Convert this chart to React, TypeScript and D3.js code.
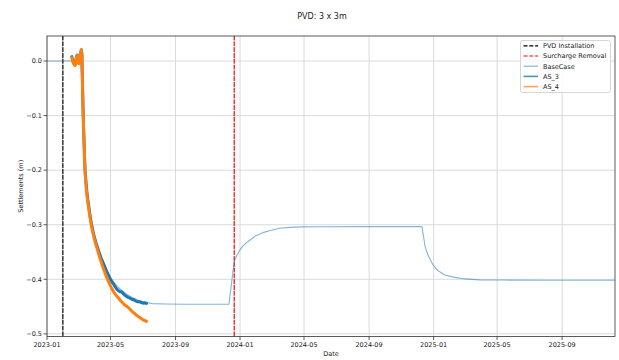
import React from "react";
import * as d3 from "d3";

const TITLE = "PVD: 3 x 3m";
const X_LABEL = "Date";
const Y_LABEL = "Settlements (m)";

const X_TICKS = ["2023-01-01", "2023-05-01", "2023-09-01", "2024-01-01", "2024-05-01", "2024-09-01", "2025-01-01", "2025-05-01", "2025-09-01"];
const Y_TICKS = [0.0, -0.1, -0.2, -0.3, -0.4, -0.5];
const X_DOMAIN = ["2023-01-01", "2025-12-10"];
const Y_DOMAIN = [-0.5048, 0.0458];

const PVD_DATE = "2023-01-31";
const SURCHARGE_DATE = "2023-12-21";

const BASE_DATES = [
  "2023-01-01", "2023-03-06", "2023-03-08", "2023-03-10", "2023-03-12", "2023-03-14", "2023-03-17", "2023-03-20",
  "2023-03-23", "2023-03-26", "2023-03-30", "2023-04-04", "2023-04-09", "2023-04-14", "2023-04-20", "2023-04-26",
  "2023-05-02", "2023-05-09", "2023-05-16", "2023-05-23", "2023-05-31", "2023-06-10", "2023-06-22", "2023-07-05",
  "2023-07-20", "2023-08-14", "2023-09-18", "2023-12-11", "2023-12-21", "2023-12-26", "2024-01-01", "2024-01-08",
  "2024-01-20", "2024-01-31", "2024-02-13", "2024-02-29", "2024-03-16", "2024-04-05", "2024-04-25", "2024-06-04",
  "2024-08-23", "2024-12-10", "2024-12-13", "2024-12-16", "2024-12-21", "2024-12-31", "2025-01-09", "2025-01-22",
  "2025-02-10", "2025-03-01", "2025-03-29", "2025-05-10", "2025-08-08", "2025-12-10",
];
const BASE_VALUES = [
  0, 0, -0.04, -0.09, -0.145, -0.195, -0.235, -0.26,
  -0.279, -0.297, -0.317, -0.335, -0.349, -0.362, -0.376, -0.388,
  -0.398, -0.407, -0.415, -0.421, -0.427, -0.433, -0.438, -0.442,
  -0.4445, -0.4452, -0.4456, -0.4456, -0.3676, -0.356, -0.346, -0.337,
  -0.328, -0.32, -0.3145, -0.31, -0.3064, -0.3048, -0.304, -0.3036,
  -0.3035, -0.3035, -0.322, -0.34, -0.355, -0.3736, -0.384, -0.392,
  -0.3965, -0.3993, -0.401, -0.4014, -0.4016, -0.4016,
];

const AS_DATES = [
  "2023-02-17", "2023-02-19", "2023-02-21", "2023-02-23", "2023-02-25", "2023-02-27", "2023-02-28", "2023-03-02",
  "2023-03-04", "2023-03-06", "2023-03-07", "2023-03-08", "2023-03-09", "2023-03-10", "2023-03-11", "2023-03-12",
  "2023-03-13", "2023-03-14", "2023-03-16", "2023-03-18", "2023-03-20", "2023-03-22", "2023-03-24", "2023-03-26",
  "2023-03-29", "2023-04-01", "2023-04-04", "2023-04-07", "2023-04-10", "2023-04-13", "2023-04-16", "2023-04-19",
  "2023-04-22", "2023-04-25", "2023-04-28", "2023-05-01", "2023-05-04", "2023-05-07", "2023-05-10", "2023-05-13",
  "2023-05-16", "2023-05-19", "2023-05-22", "2023-05-25", "2023-05-28", "2023-05-31", "2023-06-03", "2023-06-06",
  "2023-06-09", "2023-06-12", "2023-06-15", "2023-06-18", "2023-06-21", "2023-06-24", "2023-06-27", "2023-06-30",
  "2023-07-03", "2023-07-06", "2023-07-08",
];
const AS3_VALUES = [
  0.008, 0.0, -0.004, -0.007, 0.004, 0.011, 0.002, -0.004,
  0.008, 0.016, 0.02, 0.012, -0.035, -0.08, -0.115, -0.145,
  -0.175, -0.2, -0.225, -0.245, -0.26, -0.273, -0.287, -0.298,
  -0.312, -0.324, -0.334, -0.343, -0.352, -0.36, -0.367, -0.374,
  -0.381, -0.388, -0.394, -0.4, -0.405, -0.409, -0.414, -0.418,
  -0.421, -0.423, -0.423, -0.426, -0.429, -0.431, -0.433, -0.434,
  -0.436, -0.437, -0.438, -0.44, -0.441, -0.441, -0.442, -0.443,
  -0.444, -0.443, -0.444,
];
const AS4_VALUES = [
  0.006, -0.002, -0.006, -0.008, 0.002, 0.01, 0.0, -0.005,
  0.007, 0.015, 0.021, 0.01, -0.04, -0.085, -0.12, -0.15,
  -0.18, -0.205, -0.23, -0.25, -0.265, -0.278, -0.291, -0.302,
  -0.316, -0.328, -0.338, -0.348, -0.358, -0.367, -0.376, -0.384,
  -0.392, -0.399, -0.406, -0.412, -0.418, -0.423, -0.427, -0.431,
  -0.434, -0.438, -0.441, -0.444, -0.447, -0.449, -0.451, -0.454,
  -0.457, -0.46, -0.462, -0.465, -0.467, -0.469, -0.471, -0.473,
  -0.475, -0.476, -0.477,
];

const LEGEND = [
  { label: "PVD Installation", color: "#000000", dash: "4,1.8", width: 1.2, opacity: 1 },
  { label: "Surcharge Removal", color: "#ff0000", dash: "4,1.8", width: 1.2, opacity: 1 },
  { label: "BaseCase", color: "#1f77b4", dash: null, width: 1.2, opacity: 0.55 },
  { label: "AS_3", color: "#1f77b4", dash: null, width: 1.6, opacity: 0.8 },
  { label: "AS_4", color: "#ff7f0e", dash: null, width: 1.6, opacity: 0.7 },
];

const parse = d3.utcParse("%Y-%m-%d");
const FONT = "'DejaVu Sans', sans-serif";

export default function App() {
  const W = 619, H = 360;
  const m = { left: 47, right: 615, top: 36, bottom: 336.5 };
  const x = d3.scaleUtc().domain(X_DOMAIN.map((d) => parse(d)!)).range([m.left, m.right]);
  const y = d3.scaleLinear().domain(Y_DOMAIN).range([m.bottom, m.top]);
  const fmt = d3.utcFormat("%Y-%m");
  const yfmt = (v: number) => (v < 0 ? "\u2212" : "") + Math.abs(v).toFixed(1);

  const line = d3
    .line<[Date, number]>()
    .x((d) => x(d[0]))
    .y((d) => y(d[1]));

  const base = BASE_DATES.map((d, i) => [parse(d)!, BASE_VALUES[i]] as [Date, number]);
  const as3 = AS_DATES.map((d, i) => [parse(d)!, AS3_VALUES[i]] as [Date, number]);
  const as4 = AS_DATES.map((d, i) => [parse(d)!, AS4_VALUES[i]] as [Date, number]);

  const pvdX = x(parse(PVD_DATE)!);
  const surX = x(parse(SURCHARGE_DATE)!);

  const legX = 520.5, legY = 40.5, legW = 90, legH = 52;

  return (
    <svg width={W} height={H} style={{ position: "absolute", left: 0, top: 0, background: "#fff" }} fontFamily={FONT}>
      <rect x={0} y={0} width={W} height={H} fill="#fff" />
      <text x={322} y={18.5} fontSize={8} textAnchor="middle" fill="#222">{TITLE}</text>
      <defs>
        <clipPath id="plot">
          <rect x={m.left} y={m.top} width={m.right - m.left} height={m.bottom - m.top} />
        </clipPath>
      </defs>
      {/* grid */}
      <g stroke="#d6d6d6" strokeWidth={0.9}>
        {X_TICKS.map((t) => (
          <line key={t} x1={x(parse(t)!)} x2={x(parse(t)!)} y1={m.top} y2={m.bottom} />
        ))}
        {Y_TICKS.map((t) => (
          <line key={t} x1={m.left} x2={m.right} y1={y(t)} y2={y(t)} />
        ))}
      </g>
      <g clipPath="url(#plot)" fill="none" strokeLinejoin="round" strokeLinecap="round">
        <line x1={pvdX} x2={pvdX} y1={m.top} y2={m.bottom} stroke="#000" strokeWidth={1.2} strokeDasharray="4,1.8" />
        <line x1={surX} x2={surX} y1={m.top} y2={m.bottom} stroke="#ff0000" strokeWidth={1.2} strokeDasharray="4,1.8" />
        <path d={line(as3)!} stroke="#1f77b4" strokeWidth={3} />
        <path d={line(base)!} stroke="#1f77b4" strokeOpacity={0.55} strokeWidth={1.1} />
        <path d={line(as4)!} stroke="#ff7f0e" strokeWidth={3} />
      </g>
      {/* spines */}
      <rect x={m.left} y={m.top} width={m.right - m.left} height={m.bottom - m.top} fill="none" stroke="#333" strokeWidth={0.8} />
      {/* x ticks */}
      <g fontSize={6.5} fill="#222">
        {X_TICKS.map((t) => {
          const xx = x(parse(t)!);
          return (
            <g key={t}>
              <line x1={xx} x2={xx} y1={m.bottom} y2={m.bottom + 3.5} stroke="#333" strokeWidth={0.8} />
              <text x={xx} y={m.bottom + 10.5} textAnchor="middle">{fmt(parse(t)!)}</text>
            </g>
          );
        })}
        {Y_TICKS.map((t) => (
          <g key={t}>
            <line x1={m.left - 3.5} x2={m.left} y1={y(t)} y2={y(t)} stroke="#333" strokeWidth={0.8} />
            <text x={m.left - 5} y={y(t) + 2.3} textAnchor="end">{yfmt(t)}</text>
          </g>
        ))}
      </g>
      <text x={(m.left + m.right) / 2} y={356} fontSize={6.5} textAnchor="middle" fill="#222">{X_LABEL}</text>
      <text transform={`translate(22.5, ${(m.top + m.bottom) / 2}) rotate(-90)`} fontSize={6.5} textAnchor="middle" fill="#222">{Y_LABEL}</text>
      {/* legend */}
      <g>
        <rect x={legX} y={legY} width={legW} height={legH} rx={2} fill="#fff" fillOpacity={0.8} stroke="#cccccc" strokeWidth={0.8} />
        {LEGEND.map((e, i) => {
          const yy = legY + 5.3 + i * 10.2;
          return (
            <g key={e.label}>
              <line x1={legX + 3} x2={legX + 17.5} y1={yy} y2={yy} stroke={e.color} strokeWidth={e.width} strokeOpacity={e.opacity} strokeDasharray={e.dash ?? undefined} />
              <text x={legX + 22.5} y={yy + 2.3} fontSize={6.5} fill="#222">{e.label}</text>
            </g>
          );
        })}
      </g>
    </svg>
  );
}
